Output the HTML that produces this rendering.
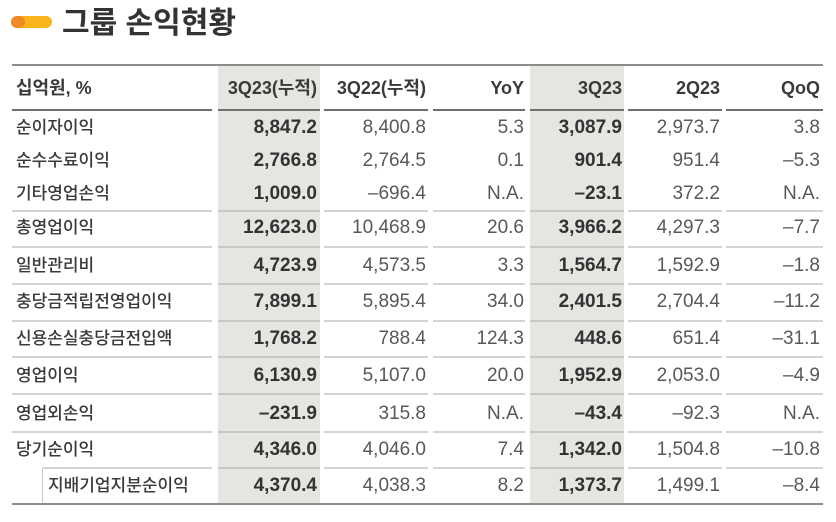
<!DOCTYPE html>
<html><head><meta charset="utf-8">
<style>
html,body{margin:0;padding:0;background:#fff;}
body{width:836px;height:522px;position:relative;overflow:hidden;font-family:"Liberation Sans","Noto Sans CJK KR",sans-serif;}
.a{position:absolute;}
.g{position:absolute;background:#e7e5e2;top:66px;height:437px;}
.ln{position:absolute;height:2px;}
.hd{background:#6f6f6f;}
.rl{background:#d3d3d3;}
.rlg{background:#c9c7c3;}
.t{position:absolute;height:24px;line-height:24px;white-space:nowrap;}
.lab{left:16px;font-size:17px;font-weight:500;color:#3a3a3a;font-family:"Liberation Sans","Noto Sans CJK KR",sans-serif;}
.num{font-size:19px;color:#585858;text-align:right;}
.b{font-weight:bold;color:#333;}
.h{font-size:18px;font-weight:bold;color:#3a3a3a;text-align:right;}
</style></head><body>

<!-- title -->
<div class="a" style="left:11px;top:16px;width:41px;height:12px;border-radius:6px;background:#f9b41c;"></div>
<div class="a" style="left:11px;top:16px;width:14px;height:12px;border-radius:6px;background:#f08a26;"></div>
<div class="a" style="left:62px;top:5px;height:38px;line-height:38px;font-size:30px;font-weight:bold;color:#333;font-family:'Liberation Sans','Noto Sans CJK KR',sans-serif;">그룹 손익현황</div>

<!-- gray columns -->
<div class="g" style="left:218px;width:102px;"></div>
<div class="g" style="left:530px;width:94px;"></div>

<!-- top line -->
<div class="ln" style="left:12px;width:811px;top:64px;background:#8c8c8c;"></div>

<!-- header underline segments -->
<div class="ln hd" style="left:12px;width:200px;top:109px;"></div>
<div class="ln hd" style="left:218px;width:102px;top:109px;"></div>
<div class="ln hd" style="left:324px;width:104px;top:109px;"></div>
<div class="ln hd" style="left:433px;width:92px;top:109px;"></div>
<div class="ln hd" style="left:530px;width:94px;top:109px;"></div>
<div class="ln hd" style="left:628px;width:94px;top:109px;"></div>
<div class="ln hd" style="left:726px;width:97px;top:109px;"></div>

<!-- row lines -->
<div class="ln rl" style="left:12px;width:200px;top:210px;"></div><div class="ln rlg" style="left:218px;width:102px;top:210px;"></div><div class="ln rl" style="left:324px;width:104px;top:210px;"></div><div class="ln rl" style="left:433px;width:92px;top:210px;"></div><div class="ln rlg" style="left:530px;width:94px;top:210px;"></div><div class="ln rl" style="left:628px;width:94px;top:210px;"></div><div class="ln rl" style="left:726px;width:97px;top:210px;"></div>
<div class="ln rl" style="left:12px;width:200px;top:246px;"></div><div class="ln rlg" style="left:218px;width:102px;top:246px;"></div><div class="ln rl" style="left:324px;width:104px;top:246px;"></div><div class="ln rl" style="left:433px;width:92px;top:246px;"></div><div class="ln rlg" style="left:530px;width:94px;top:246px;"></div><div class="ln rl" style="left:628px;width:94px;top:246px;"></div><div class="ln rl" style="left:726px;width:97px;top:246px;"></div>
<div class="ln rl" style="left:12px;width:200px;top:283px;"></div><div class="ln rlg" style="left:218px;width:102px;top:283px;"></div><div class="ln rl" style="left:324px;width:104px;top:283px;"></div><div class="ln rl" style="left:433px;width:92px;top:283px;"></div><div class="ln rlg" style="left:530px;width:94px;top:283px;"></div><div class="ln rl" style="left:628px;width:94px;top:283px;"></div><div class="ln rl" style="left:726px;width:97px;top:283px;"></div>
<div class="ln rl" style="left:12px;width:200px;top:320px;"></div><div class="ln rlg" style="left:218px;width:102px;top:320px;"></div><div class="ln rl" style="left:324px;width:104px;top:320px;"></div><div class="ln rl" style="left:433px;width:92px;top:320px;"></div><div class="ln rlg" style="left:530px;width:94px;top:320px;"></div><div class="ln rl" style="left:628px;width:94px;top:320px;"></div><div class="ln rl" style="left:726px;width:97px;top:320px;"></div>
<div class="ln rl" style="left:12px;width:200px;top:356px;"></div><div class="ln rlg" style="left:218px;width:102px;top:356px;"></div><div class="ln rl" style="left:324px;width:104px;top:356px;"></div><div class="ln rl" style="left:433px;width:92px;top:356px;"></div><div class="ln rlg" style="left:530px;width:94px;top:356px;"></div><div class="ln rl" style="left:628px;width:94px;top:356px;"></div><div class="ln rl" style="left:726px;width:97px;top:356px;"></div>
<div class="ln rl" style="left:12px;width:200px;top:393px;"></div><div class="ln rlg" style="left:218px;width:102px;top:393px;"></div><div class="ln rl" style="left:324px;width:104px;top:393px;"></div><div class="ln rl" style="left:433px;width:92px;top:393px;"></div><div class="ln rlg" style="left:530px;width:94px;top:393px;"></div><div class="ln rl" style="left:628px;width:94px;top:393px;"></div><div class="ln rl" style="left:726px;width:97px;top:393px;"></div>
<div class="ln rl" style="left:12px;width:200px;top:431px;"></div><div class="ln rlg" style="left:218px;width:102px;top:431px;"></div><div class="ln rl" style="left:324px;width:104px;top:431px;"></div><div class="ln rl" style="left:433px;width:92px;top:431px;"></div><div class="ln rlg" style="left:530px;width:94px;top:431px;"></div><div class="ln rl" style="left:628px;width:94px;top:431px;"></div><div class="ln rl" style="left:726px;width:97px;top:431px;"></div>
<div class="ln rl" style="left:43px;width:169px;top:467px;"></div><div class="ln rlg" style="left:218px;width:102px;top:467px;"></div><div class="ln rl" style="left:324px;width:104px;top:467px;"></div><div class="ln rl" style="left:433px;width:92px;top:467px;"></div><div class="ln rlg" style="left:530px;width:94px;top:467px;"></div><div class="ln rl" style="left:628px;width:94px;top:467px;"></div><div class="ln rl" style="left:726px;width:97px;top:467px;"></div>

<!-- vertical sub line -->
<div class="a" style="left:42px;top:468px;width:1px;height:36px;background:#c8c8c8;"></div>

<!-- bottom line -->
<div class="ln" style="left:12px;width:811px;top:503px;background:#8c8c8c;"></div>

<!-- header -->
<div class="t" style="left:16px;top:76px;font-size:18px;font-weight:bold;color:#3a3a3a;">십억원, %</div>
<div class="t h" style="right:519px;top:76px;">3Q23(누적)</div>
<div class="t h" style="right:410px;top:76px;">3Q22(누적)</div>
<div class="t h" style="right:312px;top:76px;">YoY</div>
<div class="t h" style="right:214px;top:76px;">3Q23</div>
<div class="t h" style="right:116px;top:76px;">2Q23</div>
<div class="t h" style="right:16px;top:76px;">QoQ</div>

<!-- rows -->
<div class="t lab" style="top:116px;">순이자이익</div>
<div class="t num b" style="right:519px;top:116px;">8,847.2</div>
<div class="t num" style="right:410px;top:116px;">8,400.8</div>
<div class="t num" style="right:312px;top:116px;">5.3</div>
<div class="t num b" style="right:214px;top:116px;">3,087.9</div>
<div class="t num" style="right:116px;top:116px;">2,973.7</div>
<div class="t num" style="right:16px;top:116px;">3.8</div>

<div class="t lab" style="top:149px;">순수수료이익</div>
<div class="t num b" style="right:519px;top:149px;">2,766.8</div>
<div class="t num" style="right:410px;top:149px;">2,764.5</div>
<div class="t num" style="right:312px;top:149px;">0.1</div>
<div class="t num b" style="right:214px;top:149px;">901.4</div>
<div class="t num" style="right:116px;top:149px;">951.4</div>
<div class="t num" style="right:16px;top:149px;">–5.3</div>

<div class="t lab" style="top:182px;">기타영업손익</div>
<div class="t num b" style="right:519px;top:182px;">1,009.0</div>
<div class="t num" style="right:410px;top:182px;">–696.4</div>
<div class="t num" style="right:312px;top:182px;">N.A.</div>
<div class="t num b" style="right:214px;top:182px;">–23.1</div>
<div class="t num" style="right:116px;top:182px;">372.2</div>
<div class="t num" style="right:16px;top:182px;">N.A.</div>

<div class="t lab" style="top:216px;">총영업이익</div>
<div class="t num b" style="right:519px;top:216px;">12,623.0</div>
<div class="t num" style="right:410px;top:216px;">10,468.9</div>
<div class="t num" style="right:312px;top:216px;">20.6</div>
<div class="t num b" style="right:214px;top:216px;">3,966.2</div>
<div class="t num" style="right:116px;top:216px;">4,297.3</div>
<div class="t num" style="right:16px;top:216px;">–7.7</div>

<div class="t lab" style="top:254px;">일반관리비</div>
<div class="t num b" style="right:519px;top:254px;">4,723.9</div>
<div class="t num" style="right:410px;top:254px;">4,573.5</div>
<div class="t num" style="right:312px;top:254px;">3.3</div>
<div class="t num b" style="right:214px;top:254px;">1,564.7</div>
<div class="t num" style="right:116px;top:254px;">1,592.9</div>
<div class="t num" style="right:16px;top:254px;">–1.8</div>

<div class="t lab" style="top:290px;">충당금적립전영업이익</div>
<div class="t num b" style="right:519px;top:290px;">7,899.1</div>
<div class="t num" style="right:410px;top:290px;">5,895.4</div>
<div class="t num" style="right:312px;top:290px;">34.0</div>
<div class="t num b" style="right:214px;top:290px;">2,401.5</div>
<div class="t num" style="right:116px;top:290px;">2,704.4</div>
<div class="t num" style="right:16px;top:290px;">–11.2</div>

<div class="t lab" style="top:327px;">신용손실충당금전입액</div>
<div class="t num b" style="right:519px;top:327px;">1,768.2</div>
<div class="t num" style="right:410px;top:327px;">788.4</div>
<div class="t num" style="right:312px;top:327px;">124.3</div>
<div class="t num b" style="right:214px;top:327px;">448.6</div>
<div class="t num" style="right:116px;top:327px;">651.4</div>
<div class="t num" style="right:16px;top:327px;">–31.1</div>

<div class="t lab" style="top:364px;">영업이익</div>
<div class="t num b" style="right:519px;top:364px;">6,130.9</div>
<div class="t num" style="right:410px;top:364px;">5,107.0</div>
<div class="t num" style="right:312px;top:364px;">20.0</div>
<div class="t num b" style="right:214px;top:364px;">1,952.9</div>
<div class="t num" style="right:116px;top:364px;">2,053.0</div>
<div class="t num" style="right:16px;top:364px;">–4.9</div>

<div class="t lab" style="top:402px;">영업외손익</div>
<div class="t num b" style="right:519px;top:402px;">–231.9</div>
<div class="t num" style="right:410px;top:402px;">315.8</div>
<div class="t num" style="right:312px;top:402px;">N.A.</div>
<div class="t num b" style="right:214px;top:402px;">–43.4</div>
<div class="t num" style="right:116px;top:402px;">–92.3</div>
<div class="t num" style="right:16px;top:402px;">N.A.</div>

<div class="t lab" style="top:438px;">당기순이익</div>
<div class="t num b" style="right:519px;top:438px;">4,346.0</div>
<div class="t num" style="right:410px;top:438px;">4,046.0</div>
<div class="t num" style="right:312px;top:438px;">7.4</div>
<div class="t num b" style="right:214px;top:438px;">1,342.0</div>
<div class="t num" style="right:116px;top:438px;">1,504.8</div>
<div class="t num" style="right:16px;top:438px;">–10.8</div>

<div class="t lab" style="left:48px;top:474px;">지배기업지분순이익</div>
<div class="t num b" style="right:519px;top:474px;">4,370.4</div>
<div class="t num" style="right:410px;top:474px;">4,038.3</div>
<div class="t num" style="right:312px;top:474px;">8.2</div>
<div class="t num b" style="right:214px;top:474px;">1,373.7</div>
<div class="t num" style="right:116px;top:474px;">1,499.1</div>
<div class="t num" style="right:16px;top:474px;">–8.4</div>

</body></html>
